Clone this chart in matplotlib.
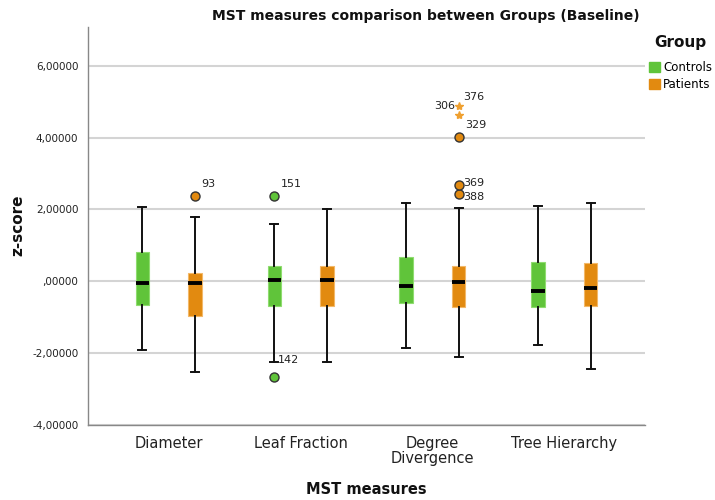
import matplotlib.pyplot as plt
from matplotlib.patches import Patch

measures = ['Diameter', 'Leaf Fraction', 'Degree\nDivergence', 'Tree Hierarchy']
groups = ['Controls', 'Patients']

# five-number summaries: whislo, q1, med, q3, whishi
controls_stats = [
    [-1.92, -0.67, -0.06, 0.83, 2.08],
    [-2.25, -0.69, 0.05, 0.44, 1.60],
    [-1.86, -0.61, -0.14, 0.69, 2.18],
    [-1.78, -0.72, -0.28, 0.55, 2.11],
]
patients_stats = [
    [-2.53, -0.97, -0.06, 0.22, 1.78],
    [-2.25, -0.69, 0.05, 0.44, 2.00],
    [-2.10, -0.72, -0.03, 0.44, 2.05],
    [-2.44, -0.69, -0.19, 0.50, 2.17],
]
# outliers: (measure index, group, value, case label, kind)
outliers = [
    (0, 'Patients', 2.38, '93', 'o'),
    (1, 'Controls', 2.38, '151', 'o'),
    (1, 'Controls', -2.65, '142', 'o'),
    (2, 'Patients', 2.44, '388', 'o'),
    (2, 'Patients', 2.69, '369', 'o'),
    (2, 'Patients', 4.03, '329', 'o'),
    (2, 'Patients', 4.64, '376', '*'),
    (2, 'Patients', 4.89, '306', '*'),
]
yticks = [-4, -2, 0, 2, 4, 6]
ytick_labels = ['-4,00000', '-2,00000', ',00000', '2,00000', '4,00000', '6,00000']

colors = {'Controls': '#60C43A', 'Patients': '#E28A10'}
edges = {'Controls': '#8fdc6f', 'Patients': '#f3b868'}
offsets = {'Controls': -0.2, 'Patients': 0.2}

fig = plt.figure(figsize=(7.15, 5), dpi=100)
ax = fig.add_axes([88 / 715, 75 / 500, 557 / 715, 398 / 500])

for g, stats in zip(groups, [controls_stats, patients_stats]):
    bstats = []
    for s in stats:
        bstats.append(dict(whislo=s[0], q1=s[1], med=s[2], q3=s[3], whishi=s[4], fliers=[]))
    pos = [i + offsets[g] for i in range(len(measures))]
    ax.bxp(bstats, positions=pos, widths=0.1, patch_artist=True, showfliers=False,
           boxprops=dict(facecolor=colors[g], edgecolor=edges[g], linewidth=0.8),
           medianprops=dict(color='black', linewidth=2.8),
           whiskerprops=dict(color='#111111', linewidth=1.4),
           capprops=dict(color='#111111', linewidth=1.4),
           capwidths=0.06, zorder=3)

for i, g, v, lab, kind in outliers:
    x = i + offsets[g]
    if kind == 'o':
        ax.plot(x, v, 'o', ms=6.5, mfc=colors[g], mec='#333333', mew=1, zorder=4)
    else:
        ax.plot(x, v, '*', ms=6, color='#EFA030', mec='#EFA030', zorder=4)

for i, g, v, lab, kind in outliers:
    x = i + offsets[g]
    if lab == '306':
        ax.text(x - 0.03, v, lab, fontsize=8, ha='right', va='center', color='#222222')
    elif lab == '376':
        ax.text(x + 0.03, v + 0.5, lab, fontsize=8, ha='left', va='center', color='#222222')
    elif lab == '369':
        ax.text(x + 0.03, v + 0.05, lab, fontsize=8, ha='left', va='center', color='#222222')
    elif lab == '388':
        ax.text(x + 0.03, v - 0.08, lab, fontsize=8, ha='left', va='center', color='#222222')
    elif lab == '142':
        ax.text(x + 0.03, v + 0.45, lab, fontsize=8, ha='left', va='center', color='#222222')
    else:
        ax.text(x + 0.05, v + 0.33, lab, fontsize=8, ha='left', va='center', color='#222222')

ax.set_xlim(-0.61, len(measures) - 1 + 0.61)
ax.set_ylim(-4, 7.08)
ax.set_xticks(range(len(measures)))
ax.set_xticklabels(measures, fontsize=10.5, color='#222222', linespacing=0.95)
ax.set_yticks(yticks)
ax.set_yticklabels(ytick_labels, fontsize=7.5, color='#222222')
ax.tick_params(length=0)
ax.tick_params(axis='x', pad=8)
ax.tick_params(axis='y', pad=7)
ax.grid(axis='y', color='#d4d4d4', linewidth=1.5)
ax.set_axisbelow(True)
for side in ['top', 'right']:
    ax.spines[side].set_visible(False)
for side in ['left', 'bottom']:
    ax.spines[side].set_color('#888888')
    ax.spines[side].set_linewidth(1)

fig.text(426 / 715, 1 - 16 / 500, 'MST measures comparison between Groups (Baseline)',
         ha='center', va='center', fontsize=10, fontweight='bold', color='#111111')
fig.text(18 / 715, 1 - 225 / 500, 'z-score', rotation=90, ha='center', va='center',
         fontsize=11, fontweight='bold', color='#111111')
fig.text(366 / 715, 1 - 490 / 500, 'MST measures', ha='center', va='center',
         fontsize=10.5, fontweight='bold', color='#111111')
fig.text(680 / 715, 1 - 43 / 500, 'Group', ha='center', va='center',
         fontsize=11, fontweight='bold', color='#111111')

handles = [Patch(facecolor=colors[g], edgecolor=colors[g]) for g in groups]
fig.legend(handles, groups, loc='upper left', bbox_to_anchor=(649 / 715, 1 - 61 / 500),
           frameon=False, fontsize=8.5, handlelength=0.9, handleheight=1.0,
           handletextpad=0.3, labelspacing=0.35, borderaxespad=0, borderpad=0)

fig.savefig('out.png', dpi=100)
